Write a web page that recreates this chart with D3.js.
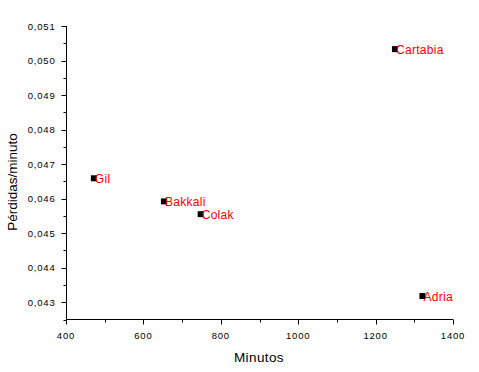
<!DOCTYPE html>
<html><head><meta charset="utf-8">
<script src="https://cdn.jsdelivr.net/npm/d3@7"></script>
<style>
body{margin:0;background:#fff;}
svg{display:block;font-family:Arial,"Liberation Sans",sans-serif;}
</style></head>
<body>
<svg id="c" width="479" height="372"></svg>
<script>
const names = ["Cartabia","Gil","Bakkali","Colak","Adria"];
const minutos = [1250, 472, 653, 748, 1321];
const perdidas = [0.05033, 0.04659, 0.04592, 0.04555, 0.04318];
const xTicks = [400,600,800,1000,1200,1400];
const yTicks = [0.043,0.044,0.045,0.046,0.047,0.048,0.049,0.050,0.051];

const svg = d3.select("#c");
const x = d3.scaleLinear().domain([400,1400]).range([66,453]);
const y = d3.scaleLinear().domain([0.0425,0.051]).range([319.5,26]);

const fmtY = v => d3.format(".3f")(v).replace(".", ",");

// minor ticks
const xMinor = d3.range(500,1400,200);
const yMinor = d3.range(0.0425,0.051,0.001);

const gx = svg.append("g").attr("transform","translate(0,319.5)");
gx.append("line").attr("x1",x(400)).attr("x2",x(1400)).attr("stroke","#000");
gx.selectAll(".mj").data(xTicks).join("line").attr("x1",d=>Math.round(x(d))+0.5).attr("x2",d=>Math.round(x(d))+0.5).attr("y1",0).attr("y2",5).attr("stroke","#000");
gx.selectAll(".mn").data(xMinor).join("line").attr("x1",d=>Math.round(x(d))+0.5).attr("x2",d=>Math.round(x(d))+0.5).attr("y1",0).attr("y2",3).attr("stroke","#000");
gx.selectAll("text").data(xTicks).join("text").attr("x",d=>x(d)).attr("y",19).attr("text-anchor","middle")
  .attr("font-size",9.5).attr("letter-spacing",0.8).text(d=>d);

const gy = svg.append("g").attr("transform","translate(66.5,0)");
gy.append("line").attr("y1",y(0.0425)).attr("y2",y(0.051)).attr("stroke","#000");
gy.selectAll(".mj").data(yTicks).join("line").attr("y1",d=>Math.round(y(d))+0.5).attr("y2",d=>Math.round(y(d))+0.5).attr("x1",0).attr("x2",-5).attr("stroke","#000");
gy.selectAll(".mn").data(yMinor).join("line").attr("y1",d=>Math.round(y(d))+0.5).attr("y2",d=>Math.round(y(d))+0.5).attr("x1",0).attr("x2",-3).attr("stroke","#000");
gy.selectAll("text").data(yTicks).join("text").attr("x",-11).attr("y",d=>y(d)+3.5).attr("text-anchor","end")
  .attr("font-size",9.5).attr("letter-spacing",0.8).text(fmtY);

svg.append("text").attr("x",259).attr("y",362).attr("text-anchor","middle").attr("font-size",13.5).attr("letter-spacing",0.4).text("Minutos");
svg.append("text").attr("transform","translate(17,182) rotate(-90)").attr("text-anchor","middle").attr("font-size",13.5).text("Pérdidas/minuto");

const data = names.map((n,i)=>({n, xv:minutos[i], yv:perdidas[i]}));
svg.selectAll("rect.pt").data(data).join("rect").attr("class","pt")
  .attr("x",d=>x(d.xv)-3).attr("y",d=>y(d.yv)-3).attr("width",6).attr("height",6).attr("fill","#000");
svg.selectAll("text.lb").data(data).join("text").attr("class","lb")
  .attr("x",d=>x(d.xv)+1).attr("y",d=>y(d.yv)+4.5).attr("font-size",12).attr("letter-spacing",0.3).attr("fill","#ff0000").text(d=>d.n);
</script>
</body></html>
